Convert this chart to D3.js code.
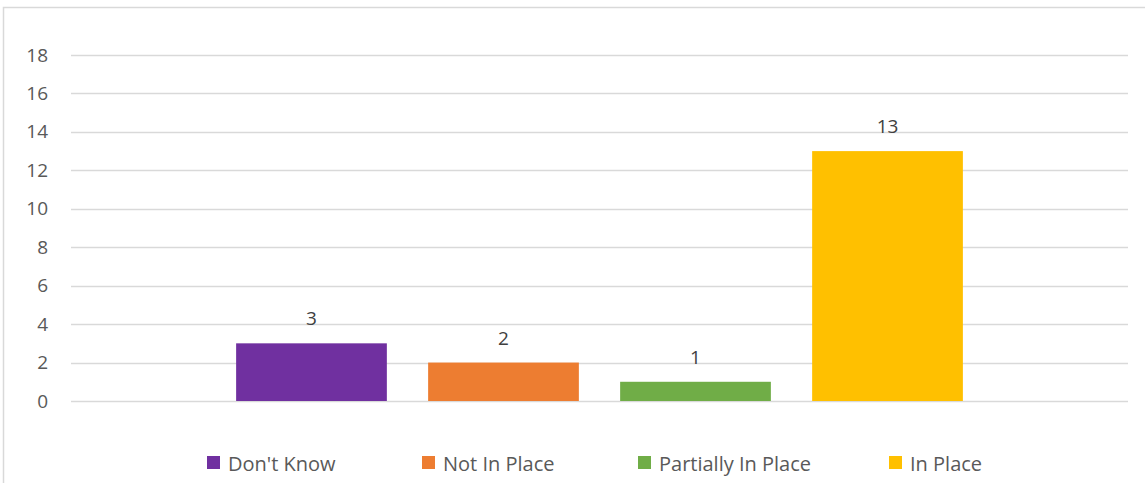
<!DOCTYPE html>
<html>
<head>
<meta charset="utf-8">
<script src="https://cdn.jsdelivr.net/npm/d3@7"></script>
<style>
  html, body { margin: 0; padding: 0; background: #fff; }
  svg { display: block; font-family: "Open Sans", Lato, sans-serif; }
</style>
</head>
<body>
<svg id="chart" width="1145" height="483"></svg>
<script>
// Series shown as one cluster of bars
const series = ["Don't Know", "Not In Place", "Partially In Place", "In Place"];
const values = [3, 2, 1, 13];
const colors = ["#7030A0", "#ED7D31", "#70AD47", "#FFC000"];
const yTicks = [0, 2, 4, 6, 8, 10, 12, 14, 16, 18];

const svg = d3.select("#chart");
const W = 1145, H = 483;

// chart area border
svg.append("rect")
  .attr("x", 3.5).attr("y", 7.5)
  .attr("width", W + 10).attr("height", H + 10)
  .attr("fill", "#fff").attr("stroke", "#d9d9d9").attr("stroke-width", 1.5);

const plot = { left: 71, right: 1128, top: 55, bottom: 401 };

const y = d3.scaleLinear().domain([0, 18]).range([plot.bottom, plot.top]);
const x = d3.scaleBand().domain(series)
  .range([plot.left, plot.right])
  .paddingInner(0.215).paddingOuter(0.86);

// gridlines
svg.append("g").selectAll("line").data(yTicks).join("line")
  .attr("x1", plot.left).attr("x2", plot.right)
  .attr("y1", d => Math.round(y(d)) + 0.5).attr("y2", d => Math.round(y(d)) + 0.5)
  .attr("stroke", "#d9d9d9").attr("stroke-width", 1.5);

// y axis labels
const yAxis = d3.axisLeft(y).tickValues(yTicks).tickSize(0).tickPadding(0);
const ya = svg.append("g").attr("transform", `translate(48,0)`).call(yAxis);
ya.select(".domain").remove();
ya.selectAll("text").attr("fill", "#595959").style("font-size", "19px")
  .style("font-family", "'Open Sans', Lato, sans-serif");

// bars
svg.append("g").selectAll("rect").data(series).join("rect")
  .attr("x", d => x(d)).attr("width", x.bandwidth())
  .attr("y", (d, i) => y(values[i]))
  .attr("height", (d, i) => y(0) - y(values[i]))
  .attr("fill", (d, i) => colors[i]);

// value labels
svg.append("g").selectAll("text").data(series).join("text")
  .attr("x", d => x(d) + x.bandwidth() / 2)
  .attr("y", (d, i) => y(values[i]) - 18)
  .attr("text-anchor", "middle")
  .attr("fill", "#404040").style("font-size", "19px")
  .text((d, i) => values[i]);

// legend
const legendX = [207, 422, 638, 889];
const lg = svg.append("g").selectAll("g").data(series).join("g")
  .attr("transform", (d, i) => `translate(${legendX[i]},456)`);
lg.append("rect").attr("width", 13).attr("height", 13)
  .attr("fill", (d, i) => colors[i]);
lg.append("text").attr("x", 21).attr("y", 14.5)
  .attr("fill", "#595959").style("font-size", "20px")
  .text(d => d);
</script>
</body>
</html>
